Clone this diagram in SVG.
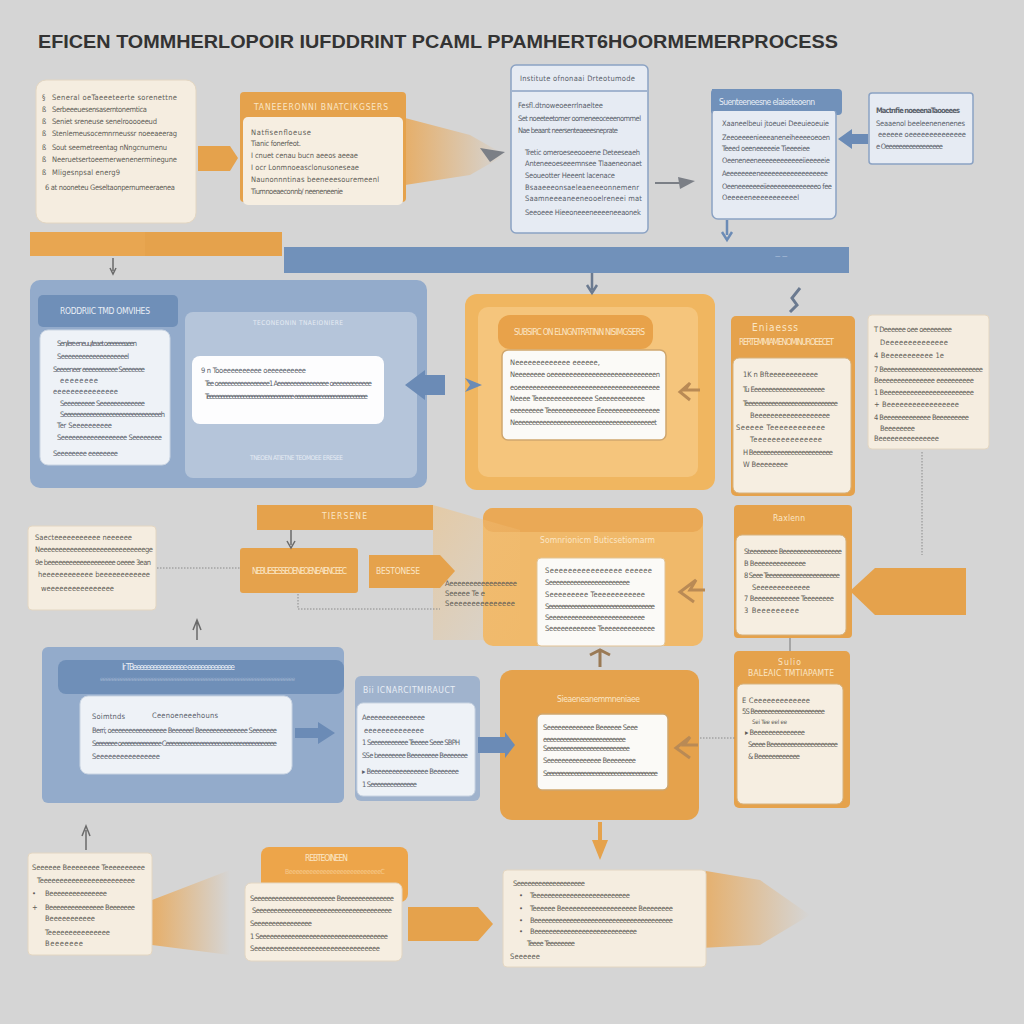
<svg xmlns="http://www.w3.org/2000/svg" width="1024" height="1024" viewBox="0 0 1024 1024">
<style>
text{font-family:"DejaVu Sans Condensed","Liberation Sans",sans-serif}
.t{font-size:7.5px;fill:#615d57}
.tb{font-size:7.5px;fill:#5a616b}
.h{font-size:8.5px;fill:#fbe6c6}
.hb{font-size:8.5px;fill:#e9eef6}
.cream{fill:#f5ede0;stroke:#e3d6c2;stroke-width:1}
.or{fill:#e5a24c}
.bl{fill:#7191ba}
.blc{fill:#e6ebf3;stroke:#8ba2c3;stroke-width:1.5}
.wh{fill:#fbfaf7;stroke:#cfa66e;stroke-width:1.5}
.dot{fill:none;stroke:#8a8a8a;stroke-width:1;stroke-dasharray:1.5 1.5}
.gr{fill:#7b7f86}
</style>
<defs>
<linearGradient id="fadeR" x1="0" y1="0" x2="1" y2="0"><stop offset="0" stop-color="#eaa54f" stop-opacity="0.8"/><stop offset="1" stop-color="#eaa54f" stop-opacity="0"/></linearGradient>
<linearGradient id="fadeD" x1="0" y1="0" x2="1" y2="1"><stop offset="0" stop-color="#f2c07a" stop-opacity="0.85"/><stop offset="1" stop-color="#f2c07a" stop-opacity="0.1"/></linearGradient>
</defs>
<rect width="1024" height="1024" fill="#d5d5d5"/>
<text x="38" y="48" font-size="19" font-weight="bold" fill="#333" textLength="800" lengthAdjust="spacingAndGlyphs" style="font-family:'Liberation Sans',sans-serif">EFICEN TOMMHERLOPOIR IUFDDRINT PCAML PPAMHERT6HOORMEMERPROCESS</text>

<g id="backdrop">
<polygon points="405,118 470,135 505,155 470,175 405,185" fill="url(#fadeR)"/>
<polygon points="152,900 230,870 230,955 152,945" fill="url(#fadeR)"/>
<polygon points="700,870 760,880 810,915 760,945 700,948" fill="url(#fadeR)"/>
</g>

<g id="nodeA">
<rect x="36" y="80" width="160" height="143" rx="10" class="cream"/>
<g class="t">
<text x="42" y="100">§</text><text x="52" y="100" textLength="125">Seneral oeTaeeeteerte sorenettne</text>
<text x="42" y="112">ß</text><text x="52" y="112" textLength="95">Serbeeeuesensaserntonemtica</text>
<text x="42" y="124">ß</text><text x="52" y="124" textLength="105">Seniet sreneuse senelrooooeeud</text>
<text x="42" y="136">ß</text><text x="52" y="136" textLength="125">Stenlemeusocemnrneussr noeeaeerag</text>
<text x="42" y="150">ß</text><text x="52" y="150" textLength="115">Sout seemetreentag nNngcnurnenu</text>
<text x="42" y="162">ß</text><text x="52" y="162" textLength="125">Neeruetsertoeemerwenenerminegune</text>
<text x="42" y="175">ß</text><text x="52" y="175" textLength="68">Mligesnpsal energ9</text>
<text x="45" y="190" textLength="130">6 at nooneteu Geseltaonpernumeeraenea</text>
</g>
</g>

<g id="nodeB">
<rect x="240" y="92" width="166" height="110" rx="4" class="or"/>
<text x="254" y="110" class="h" textLength="134">TANEEERONNI BNATCIKGSERS</text>
<rect x="243" y="117" width="160" height="88" rx="5" fill="#f6eee1"/>
<g class="t">
<text x="251" y="135" textLength="60">Natfisenfloeuse</text>
<text x="251" y="146" textLength="50">Tianic fonerfeot.</text>
<text x="251" y="158" textLength="107">I cnuet cenau bucn aeeos aeeae</text>
<text x="251" y="170" textLength="108">I ocr Lonmnoeasclonusoneseae</text>
<text x="251" y="182" textLength="128">Naunonnntinas beeneeesouremeenl</text>
<text x="251" y="194" textLength="92">Tiumnoeaeconnb/ neeneneenie</text>
</g>
</g>

<g id="nodeC">
<rect x="511" y="65" width="137" height="168" rx="5" class="blc"/>
<line x1="512" y1="91" x2="647" y2="91" stroke="#8ba2c3" stroke-width="1.5"/>
<g class="tb">
<text x="520" y="81" textLength="115">Institute ofnonaai  Drteotumode</text>
<text x="518" y="108" textLength="85">Fesfl.dtnoweoeerrlnaeltee</text>
<text x="518" y="121" textLength="123">Set noeeteetomer oomeneeoceeenommel</text>
<text x="518" y="133" textLength="100">Nae beaant neersenteaeeesneprate</text>
<text x="525" y="155" textLength="115">Tretic omeroeseeooeene Deteeseaeh</text>
<text x="525" y="166" textLength="117">Anteneeoeseeemnsee  Tlaaeneonaet</text>
<text x="525" y="178" textLength="90">Seoueotter Heeent lacenace</text>
<text x="525" y="190" textLength="114">Bsaaeeeonsaeleaeneeonnemenr</text>
<text x="525" y="201" textLength="117">Saamneeeaneeneooelreneei mat</text>
<text x="525" y="215" textLength="116">Seeoeee Hieeoneeeneeeeneeaonek</text>
</g>
</g>

<g id="nodeD">
<rect x="711" y="89" width="131" height="26" rx="4" class="bl"/>
<rect x="712" y="108" width="124" height="111" rx="6" class="blc"/>
<rect x="712" y="89" width="124" height="22" fill="#7191ba"/>
<text x="719" y="105" class="hb" textLength="96">Suenteeneesne elaiseteoenn</text>
<g class="tb">
<text x="722" y="126" textLength="107">Xaaneelbeui jtoeuei Deeuieoeuie</text>
<text x="722" y="140" textLength="108">Zeeoeeeenieeeaneneiheeeeoeoen</text>
<text x="722" y="151" textLength="88">Teeed oeeneeeeeie Tieeeeiee</text>
<text x="722" y="163" textLength="108">Oeeneneeneeeeeeeeeeeeiieeeeeie</text>
<text x="722" y="176" textLength="106">Aeeeeeeeeneeeeeeeeeeeeeeeeee</text>
<text x="722" y="189" textLength="110">Oeeneeeeeeeiieeeeeeeeeeeeeeo fee</text>
<text x="722" y="200" textLength="77">Oeeeeeneeeeeeeeeeel</text>
</g>
</g>

<g id="nodeE">
<rect x="869" y="93" width="104" height="71" rx="3" class="blc"/>
<g class="tb">
<text x="876" y="113" textLength="84" font-weight="bold">Mactnfie noeeenaTaooeees</text>
<text x="876" y="126" textLength="89">Seaaenol beeleenenenenes</text>
<text x="878" y="137" textLength="88">eeeeee oeeeeeeeeeeeeee</text>
<text x="876" y="149" textLength="67">e Oeeeeeeeeeeeeeeeee</text>
</g>
</g>

<g id="barOrange">
<rect x="30" y="232" width="252" height="24" class="or"/>
<rect x="30" y="232" width="115" height="24" fill="#e9a955" opacity="0.6"/>
</g>
<g id="barBlue">
<rect x="284" y="247" width="565" height="26" class="bl"/>
<text x="775" y="258" font-size="6" fill="#c8d4e4">— —</text>
</g>

<g id="nodeBlueBig">
<rect x="30" y="280" width="397" height="208" rx="10" fill="#93abcb"/>
<rect x="185" y="312" width="232" height="166" rx="8" fill="#b5c5da"/>
<rect x="38" y="295" width="140" height="32" rx="5" fill="#6f8fb8"/>
<text x="60" y="314" class="hb" textLength="90">RODDRIIC TMD OMVIHES</text>
<rect x="40" y="330" width="130" height="135" rx="8" fill="#eef2f7" stroke="#c9d4e2"/>
<g class="tb">
<text x="57" y="346" textLength="80">Sen/lere eneuu/teaet oeeeeeeaeen</text>
<text x="57" y="359" textLength="72">Seeeeeeeeeeeeeeeeeeel</text>
<text x="53" y="372" textLength="92">Seeeeneer eeeeeeeeeee Seeeeeee</text>
<text x="60" y="383" textLength="38">eeeeeeee</text>
<text x="53" y="394" textLength="65">eeeeeeeeeeeeeee</text>
<text x="60" y="406" textLength="85">Seeeeeeeee Seeeeeeeeeeeee</text>
<text x="60" y="417" textLength="105">Seeeeeeeeeeeeeeeeeeeeeeeeeeeeeeh</text>
<text x="57" y="428" textLength="55">Ter Seeeeeeeeee</text>
<text x="57" y="440" textLength="105">Seeeeeeeeeeeeeeeeee  Seeeeeeee</text>
<text x="53" y="456" textLength="65">Seeeeeeee eeeeeeee</text>
</g>
<text x="253" y="325" font-size="6.5" fill="#e6ecf4" textLength="90">TECONEONIN TNAEIONIERE</text>
<rect x="192" y="356" width="192" height="68" rx="8" fill="#fdfdfe"/>
<g class="tb">
<text x="201" y="373" textLength="105">9 n Tooeeeeeeeeee oeeeeeeeeee</text>
<text x="205" y="386" textLength="167">Tee oeeeeeeeeeeeeeeee1 Aeeeeeeeeeeeeeeee oeeeeeeeeeeee</text>
<text x="205" y="399" textLength="163">Teeeeeeeeeeeeeeeeeeeeeeeeeeeeeee eeeeeeeeeeeeeeeeeeeeeeeeee</text>
</g>
<text x="250" y="460" font-size="6.5" fill="#e6ecf4" textLength="93">TNEOEN ATIETNE TEOMOEE ERESEE</text>
</g>

<g id="nodeOrangeBig">
<rect x="465" y="294" width="250" height="196" rx="12" fill="#f0b660"/>
<rect x="478" y="307" width="220" height="170" rx="10" fill="#f5c57c"/>
<rect x="498" y="315" width="155" height="34" rx="12" fill="#e8a24a"/>
<text x="514" y="335" class="h" textLength="131">SUBSIRC ON ELNGNTRATINN NISIMGSERS</text>
<rect x="502" y="350" width="164" height="90" rx="6" class="wh"/>
<g class="t">
<text x="510" y="365" textLength="90">Neeeeeeeeeeeee eeeeee,</text>
<text x="510" y="377" textLength="150">Neeeeeeee oeeeeeeeeeeeeeeeeeeeeeeeeeeeen</text>
<text x="510" y="390" textLength="150">eoeeeeeeeeeeeeeeeeeeeeeeeeeeeeeeeeeeeeee</text>
<text x="510" y="401" textLength="135">Neeee Teeeeeeeeeeeeeee Seeeeeeeeeeee</text>
<text x="510" y="413" textLength="150">eeeeeeeee Teeeeeeeeeeeee Eeeeeeeeeeeeeeeee</text>
<text x="510" y="425" textLength="147">Neeeeeeeeeeeeeeeeeeeeeeeeeeeeeeeeeeeeeeeet</text>
</g>
</g>

<g id="nodeF">
<rect x="731" y="316" width="124" height="180" rx="5" class="or"/>
<text x="752" y="331" font-size="10" fill="#fbe6c6" textLength="46">Eniaesss</text>
<text x="739" y="345" class="h" textLength="95">RERTEMMIAMENOMINUROEECET</text>
<rect x="733" y="358" width="118" height="135" rx="6" fill="#f6eee1" stroke="#d6b27e"/>
<g class="t">
<text x="743" y="377" textLength="75">1K n Bfteeeeeeeeeeee</text>
<text x="743" y="392" textLength="82">Tu Eeeeeeeeeeeeeeeeeeeee</text>
<text x="743" y="406" textLength="95">Teeeeeeeeeeeeeeeeeeeeeeeeeeee</text>
<text x="750" y="418" textLength="80">Beeeeeeeeeeeeeeeeeee</text>
<text x="736" y="430" textLength="89">Seeeee Teeeeeeeeeeee</text>
<text x="750" y="442" textLength="72">Teeeeeeeeeeeeeee</text>
<text x="743" y="455" textLength="90">H Beeeeeeeeeeeeeeeeeeeeeee</text>
<text x="743" y="467" textLength="45">W Beeeeeeee</text>
</g>
</g>

<g id="nodeG">
<rect x="868" y="315" width="121" height="134" rx="4" class="cream"/>
<g class="t">
<text x="874" y="332" textLength="78">T Deeeeee oee oeeeeeeee</text>
<text x="880" y="345" textLength="68">Deeeeeeeeeeeeee</text>
<text x="874" y="358" textLength="70">4 Beeeeeeeeeee 1e</text>
<text x="874" y="372" textLength="109">7 Beeeeeeeeeeeeeeeeeeeeeeeeeeee</text>
<text x="874" y="383" textLength="100">Beeeeeeeeeeeeeee eeeeeeeeee</text>
<text x="874" y="395" textLength="100">1 Beeeeeeeeeeeeeeeeeeeeeeee</text>
<text x="874" y="407" textLength="85">+ Beeeeeeeeeeeeeeeee</text>
<text x="874" y="420" textLength="95">4 Beeeeeeeeeeeee Beeeeeeeee</text>
<text x="880" y="431" textLength="35">Beeeeeeee</text>
<text x="874" y="441" textLength="65">Beeeeeeeeeeeeeee</text>
</g>
</g>

<g id="nodeH">
<rect x="28" y="526" width="128" height="84" rx="4" class="cream"/>
<g class="t">
<text x="35" y="540" textLength="97">Saecteeeeeeeeeee neeeeee</text>
<text x="35" y="552" textLength="118">Neeeeeeeeeeeeeeeeeeeeeeeeeeeege</text>
<text x="35" y="565" textLength="116">9e beeeeeeeeeeeeeeeeeee oeeee 3ean</text>
<text x="38" y="577" textLength="112">heeeeeeeeeeee beeeeeeeeeeee</text>
<text x="41" y="591" textLength="73">weeeeeeeeeeeeeeee</text>
</g>
</g>

<g id="nodeI">
<rect x="257" y="505" width="176" height="25" class="or"/>
<text x="322" y="519" class="h" textLength="45">TIERSENE</text>
</g>
<g id="nodeJ">
<rect x="240" y="548" width="118" height="45" rx="3" class="or"/>
<text x="252" y="574" class="h" font-size="7" textLength="95">NEBUESESSEOENEOENEAIENCEEC</text>
</g>

<g id="nodeL">
<rect x="483" y="508" width="220" height="138" rx="10" fill="#f0b96a"/>
<rect x="483" y="508" width="220" height="24" rx="10" fill="#eaa956"/>
<text x="540" y="543" class="h" textLength="115">Somnrionicm Buticsetiomarm</text>
<rect x="537" y="558" width="128" height="88" rx="4" fill="#fbfaf7" stroke="#e2c394"/>
<g class="t">
<text x="545" y="573" textLength="107">Seeeeeeeeeeeeeeee eeeeee</text>
<text x="545" y="585" textLength="85">Seeeeeeeeeeeeeeeeeeeeeee</text>
<text x="545" y="597" textLength="100">Seeeeeeeee Teeeeeeeeeeee</text>
<text x="545" y="609" textLength="110">Seeeeeeeeeeeeeeeeeeeeeeeeeeeeeeeee</text>
<text x="545" y="620" textLength="100">Seeeeeeeeeeeeeeeeeeeeeeeeee</text>
<text x="545" y="631" textLength="110">Seeeeeeeeeeee Teeeeeeeeeeeeee</text>
</g>
</g>

<g id="nodeM">
<rect x="734" y="505" width="118" height="133" rx="4" class="or"/>
<text x="773" y="521" class="h" textLength="32">Raxlenn</text>
<rect x="736" y="535" width="110" height="100" rx="6" fill="#f6eee1" stroke="#d6b27e"/>
<g class="t">
<text x="744" y="554" textLength="98">Steeeeeeee Beeeeeeeeeeeeeeeee</text>
<text x="744" y="566" textLength="62">B Beeeeeeeeeeeeee</text>
<text x="744" y="578" textLength="96">8 Seee Teeeeeeeeeeeeeeeeeeeeee</text>
<text x="752" y="590" textLength="58">Seeeeeeeeeeeee</text>
<text x="744" y="601" textLength="90">7 Beeeeeeeeeeee Teeeeeeee</text>
<text x="744" y="613" textLength="55">3 Beeeeeeeee</text>
</g>
</g>

<g id="nodeN">
<rect x="42" y="647" width="302" height="156" rx="6" fill="#93abcb"/>
<rect x="58" y="660" width="286" height="34" rx="8" fill="#6f8fb8"/>
<text x="122" y="670" class="hb" textLength="113">Ir TBeeeeeeeeeeeeeeee eeeeeeeeeeeeee</text>
<text x="100" y="681" font-size="6" fill="#9fb3cf" textLength="195">eeeeeeeeeeeeeeeeeeeeeeeeeeeeeeeeeeeeeeeeeeeeeeeeeeeeeeeeeeeeeeeeeeee</text>
<rect x="80" y="696" width="212" height="78" rx="8" fill="#eef2f7" stroke="#c9d4e2"/>
<g class="tb">
<text x="92" y="719" textLength="33">Soimtnds</text>
<text x="152" y="718" textLength="66">Ceenoeneeehouns</text>
<text x="92" y="733" textLength="185">Berri; oeeeeeeeeeeeeeeee Beeeeeel Beeeeeeeeeeeeee Seeeeeee</text>
<text x="92" y="746" textLength="185">Seeeeeee oeeeeeeeeeeeee Ceeeeeeeeeeeeeeeeeeeeeeeeeeeeeeeeeeee</text>
<text x="92" y="759" textLength="68">Seeeeeeeeeeeeeeee</text>
</g>
</g>

<g id="nodeO">
<rect x="355" y="676" width="125" height="125" rx="6" fill="#a0b3cd"/>
<text x="363" y="693" class="hb" textLength="92">Bii ICNARCITMIRAUCT</text>
<rect x="357" y="703" width="118" height="93" rx="6" fill="#eef2f7" stroke="#c9d4e2"/>
<g class="tb">
<text x="362" y="720" textLength="63">Aeeeeeeeeeeeeeee</text>
<text x="364" y="733" textLength="60">eeeeeeeeeeeeee</text>
<text x="362" y="745" textLength="98">1 Seeeeeeeeeee Teeeee Seee SBPH</text>
<text x="362" y="758" textLength="106">SSe beeeeeeee Beeeeeeee Beeeeeee</text>
<text x="362" y="774" textLength="97">▸ Beeeeeeeeeeeeeeee Beeeeeee</text>
<text x="362" y="787" textLength="55">1 Seeeeeeeeeeeeee</text>
</g>
</g>

<g id="nodeP">
<rect x="500" y="670" width="199" height="150" rx="12" class="or"/>
<text x="557" y="702" class="h" textLength="83">Sieaeneanemmneniaee</text>
<rect x="537" y="714" width="131" height="76" rx="5" class="wh"/>
<g class="t">
<text x="543" y="730" textLength="95">Seeeeeeeeeeeee Beeeeee Seee</text>
<text x="543" y="742" textLength="83">eeeeeeeeeeeeeeeeeeeeeeeee</text>
<text x="543" y="751" textLength="87">Seeeeeeeeeeeeeeeeeeeeeeeee</text>
<text x="543" y="763" textLength="93">Seeeeeeeeeeeeeee Beeeeeeee</text>
<text x="543" y="776" textLength="115">Seeeeeeeeeeeeeeeeeeeeeeeeeeeeeeeeeeee</text>
</g>
</g>

<g id="nodeQ">
<rect x="734" y="651" width="116" height="157" rx="5" class="or"/>
<text x="778" y="665" class="h" font-size="7" textLength="23">Sulio</text>
<text x="748" y="676" class="h" textLength="86">BALEAIC TMTIAPAMTE</text>
<rect x="737" y="684" width="106" height="120" rx="6" fill="#f6eee1" stroke="#d6b27e"/>
<g class="t">
<text x="742" y="703" textLength="68">E Ceeeeeeeeeeeee</text>
<text x="742" y="714" textLength="83">5S Beeeeeeeeeeeeeeeeeeeee</text>
<text x="752" y="724" font-size="6" textLength="35">Sei Tee eel ee</text>
<text x="745" y="735" textLength="60">▸ Beeeeeeeeeeeeee</text>
<text x="748" y="747" textLength="90">Seeee Beeeeeeeeeeeeeeeeeeee</text>
<text x="748" y="759" textLength="52">&amp; Beeeeeeeeeeee</text>
</g>
</g>

<g id="nodeR">
<rect x="28" y="853" width="124" height="102" rx="4" class="cream"/>
<g class="t">
<text x="32" y="870" textLength="113">Seeeeee Beeeeeeee Teeeeeeeeee</text>
<text x="37" y="883" textLength="98">Teeeeeeeeeeeeeeeeeeeeeeee</text>
<text x="32" y="896" textLength="5">•</text><text x="45" y="896" textLength="62">Beeeeeeeeeeeeeee</text>
<text x="32" y="910" textLength="5">+</text><text x="45" y="910" textLength="90">Beeeeeeeeeeeeeee Beeeeeee</text>
<text x="45" y="921" textLength="50">Beeeeeeeeeee</text>
<text x="45" y="935" textLength="65">Teeeeeeeeeeeeeee</text>
<text x="45" y="946" textLength="38">Beeeeeee</text>
</g>
</g>

<g id="nodeS">
<rect x="261" y="847" width="147" height="55" rx="8" fill="#eda54a"/>
<text x="305" y="861" class="h" textLength="43">REBTEOINEEN</text>
<text x="285" y="874" font-size="7" fill="#f6c98c" textLength="100">BeeeeeeeeeeeeeeeeeeeeeeeeeeeC</text>
<rect x="245" y="883" width="157" height="78" rx="6" fill="#f6eee1" stroke="#e3d6c2"/>
<g class="t">
<text x="250" y="901" textLength="144">Seeeeeeeeeeeeeeeeeeeeeee Beeeeeeeeeeeeeee</text>
<text x="252" y="913" textLength="140">Seeeeeeeeeeeeeeeeeeeeeeeeeeeeeeeeeeeeee</text>
<text x="250" y="926" textLength="62">Seeeeeeeeeeeeeeee</text>
<text x="250" y="939" textLength="138">1 Seeeeeeeeeeeeeeeeeeeeeeeeeeeeeeeeeeee</text>
<text x="250" y="951" textLength="130">Seeeeeeeeeeeeeeeeeeeeeeeeeeeeeeeee</text>
</g>
</g>

<g id="nodeU">
<rect x="503" y="870" width="203" height="97" rx="4" class="cream"/>
<g class="t">
<text x="513" y="886" textLength="72">Seeeeeeeeeeeeeeeeeee</text>
<text x="519" y="898" textLength="5">•</text><text x="530" y="898" textLength="100">Teeeeeeeeeeeeeeeeeeeeeeeeee</text>
<text x="519" y="911" textLength="5">•</text><text x="530" y="911" textLength="143">Teeeeee Beeeeeeeeeeeeeeeeeeee Beeeeeeee</text>
<text x="519" y="923" textLength="5">•</text><text x="530" y="923" textLength="143">Beeeeeeeeeeeeeeeeeeeeeeeeeeeeeeeeeeeeeee</text>
<text x="519" y="934" textLength="5">•</text><text x="530" y="934" textLength="107">Beeeeeeeeeeeeeeeeeeeeeeeeeeee</text>
<text x="527" y="946" textLength="48">Teeee Teeeeeeee</text>
<text x="510" y="959" textLength="30">Seeeeee</text>
</g>
</g>

<g id="connectors">
<polygon points="433,505 520,530 520,640 433,640" fill="url(#fadeD)" opacity="0.6"/>
<polygon points="198,146 230,146 238,158 230,171 198,171" class="or"/>
<path d="M480,148 L505,152 L490,162 Z" class="gr"/>
<path d="M655,183 L680,183" stroke="#7b7f86" stroke-width="2"/>
<path d="M678,177 L695,181 L680,189 Z" class="gr"/>
<polygon points="868,134 852,134 852,129 838,139 852,149 852,144 868,144" fill="#6b8bb6"/>
<path d="M727,220 L727,235 M722,232 L727,240 L732,232" stroke="#6b8bb6" stroke-width="2.5" fill="none"/>
<path d="M113,258 L113,271 M110,268 L113,274 L116,268" stroke="#6a6a6a" stroke-width="1.5" fill="none"/>
<path d="M592,273 L592,290 M587,285 L592,293 L597,285" stroke="#6b7a90" stroke-width="2.5" fill="none"/>
<path d="M800,288 L792,298 L797,305 L790,312" stroke="#6b7a90" stroke-width="3" fill="none"/>
<polygon points="445,375 425,375 425,370 405,385 425,400 425,395 445,395" fill="#6b8bb6"/>
<polygon points="465,378 482,385 465,392 470,385" fill="#6b8bb6"/>
<path d="M700,390 L685,390 L690,383 L680,392 L690,400" stroke="#b98a55" stroke-width="3" fill="none"/>
<path d="M922,452 L922,555" class="dot"/>
<path d="M157,568 L240,568" class="dot"/>
<path d="M291,530 L291,545 M287,541 L291,548 L295,541" stroke="#6a6a6a" stroke-width="1.5" fill="none"/>
<path d="M298,594 L298,609 L440,609" class="dot"/>
<polygon points="369,555 440,555 455,571 440,588 369,588" class="or"/>
<text x="376" y="574" class="h" font-size="7" textLength="44">BESTONESE</text>
<g class="t"><text x="445" y="586" textLength="72">Aeeeeeeeeeeeeeeeee</text><text x="445" y="596" textLength="40">Seeeee Te e</text><text x="445" y="606" textLength="70">Seeeeeeeeeeeeeee</text></g>
<path d="M705,590 L690,590 L696,580 L680,592 L694,602" stroke="#b98a55" stroke-width="3" fill="none"/>
<polygon points="966,568 875,568 850,591 875,615 966,615" class="or"/>
<path d="M197,620 L197,640 M193,630 L197,620 L201,630" stroke="#6a6a6a" stroke-width="1.5" fill="none"/>
<path d="M600,650 L600,667 M590,655 L600,650 L610,655" stroke="#9a7a55" stroke-width="3" fill="none"/>
<path d="M790,638 L790,651" stroke="#777" stroke-width="1"/>
<polygon points="295,728 318,728 318,722 335,733 318,744 318,738 295,738" fill="#6b8bb6"/>
<polygon points="478,737 505,737 505,732 515,745 505,758 505,753 478,753" fill="#6b8bb6"/>
<path d="M698,745 L684,745 L690,737 L676,748 L690,758" stroke="#b98a55" stroke-width="3" fill="none"/>
<path d="M700,738 L735,738" class="dot"/>
<path d="M86,850 L86,830 M82,836 L86,826 L90,836" stroke="#6a6a6a" stroke-width="1.5" fill="none"/>
<path d="M600,822 L600,840" stroke="#e5a24c" stroke-width="4"/>
<polygon points="592,840 608,840 600,860" class="or"/>
<polygon points="408,907 478,907 493,924 478,941 408,941" class="or"/>
</g>
</svg>
